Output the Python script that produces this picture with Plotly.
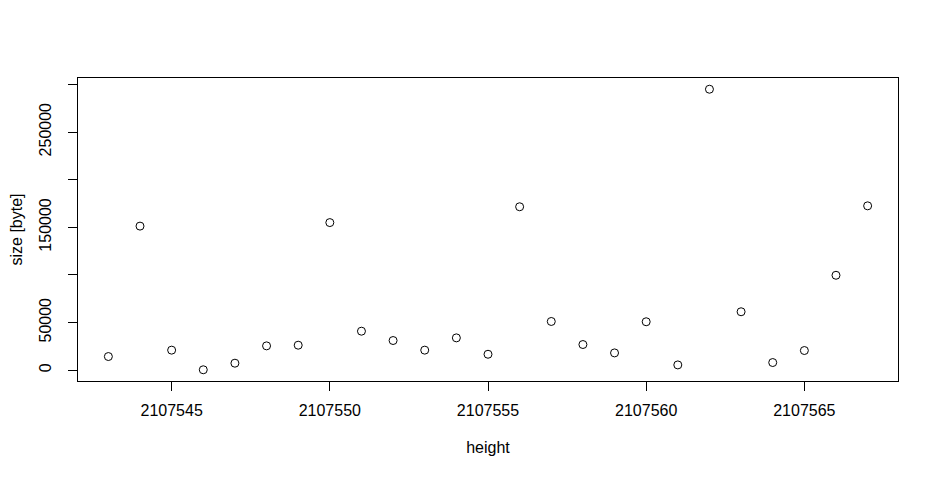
import plotly.graph_objects as go

heights = list(range(2107543, 2107568))
sizes = [14400, 151300, 21100, 500, 7400, 25600, 26300, 155000, 41000,
         31200, 21100, 34000, 16800, 171600, 51200, 27000, 18200,
         50900, 5600, 295000, 61400, 8100, 20700, 99700, 172600]

x_ticks = [2107545, 2107550, 2107555, 2107560, 2107565]
x_tick_labels = [str(v) for v in x_ticks]
y_ticks = [0, 50000, 100000, 150000, 200000, 250000, 300000]
y_tick_labels = ["0", "50000", "", "150000", "", "250000", ""]

def r_range(vals):
    lo, hi = min(vals), max(vals)
    d = (hi - lo) * 0.04
    return [lo - d, hi + d]

fig = go.Figure(go.Scatter(
    x=heights, y=sizes, mode="markers",
    marker=dict(symbol="circle-open", size=8, color="black",
                line=dict(width=1, color="black")),
))

font = dict(family="Liberation Sans, Arial, sans-serif", size=16, color="black")

fig.update_layout(
    width=923, height=463,
    margin=dict(l=70, r=33, t=70, b=90),
    paper_bgcolor="white", plot_bgcolor="white",
    showlegend=False, font=font,
    xaxis=dict(range=r_range(heights), tickvals=x_ticks, ticktext=x_tick_labels,
               automargin=False,
               showgrid=False, zeroline=False, showline=True, mirror=True,
               linecolor="black", linewidth=1, ticks="outside", ticklen=9,
               tickcolor="black", tickwidth=1, tickfont=font, ticklabelstandoff=6,
               title=dict(text="height", font=font, standoff=23)),
    yaxis=dict(range=r_range(sizes), tickvals=y_ticks, ticktext=y_tick_labels,
               automargin=False,
               showgrid=False, zeroline=False, showline=True, mirror=True,
               linecolor="black", linewidth=1, ticks="outside", ticklen=9,
               tickcolor="black", tickwidth=1, tickfont=font, tickangle=-90,
               ticklabelstandoff=11,
               title=dict(text="size [byte]", font=font, standoff=14)),
)

fig.write_html("out.html")
